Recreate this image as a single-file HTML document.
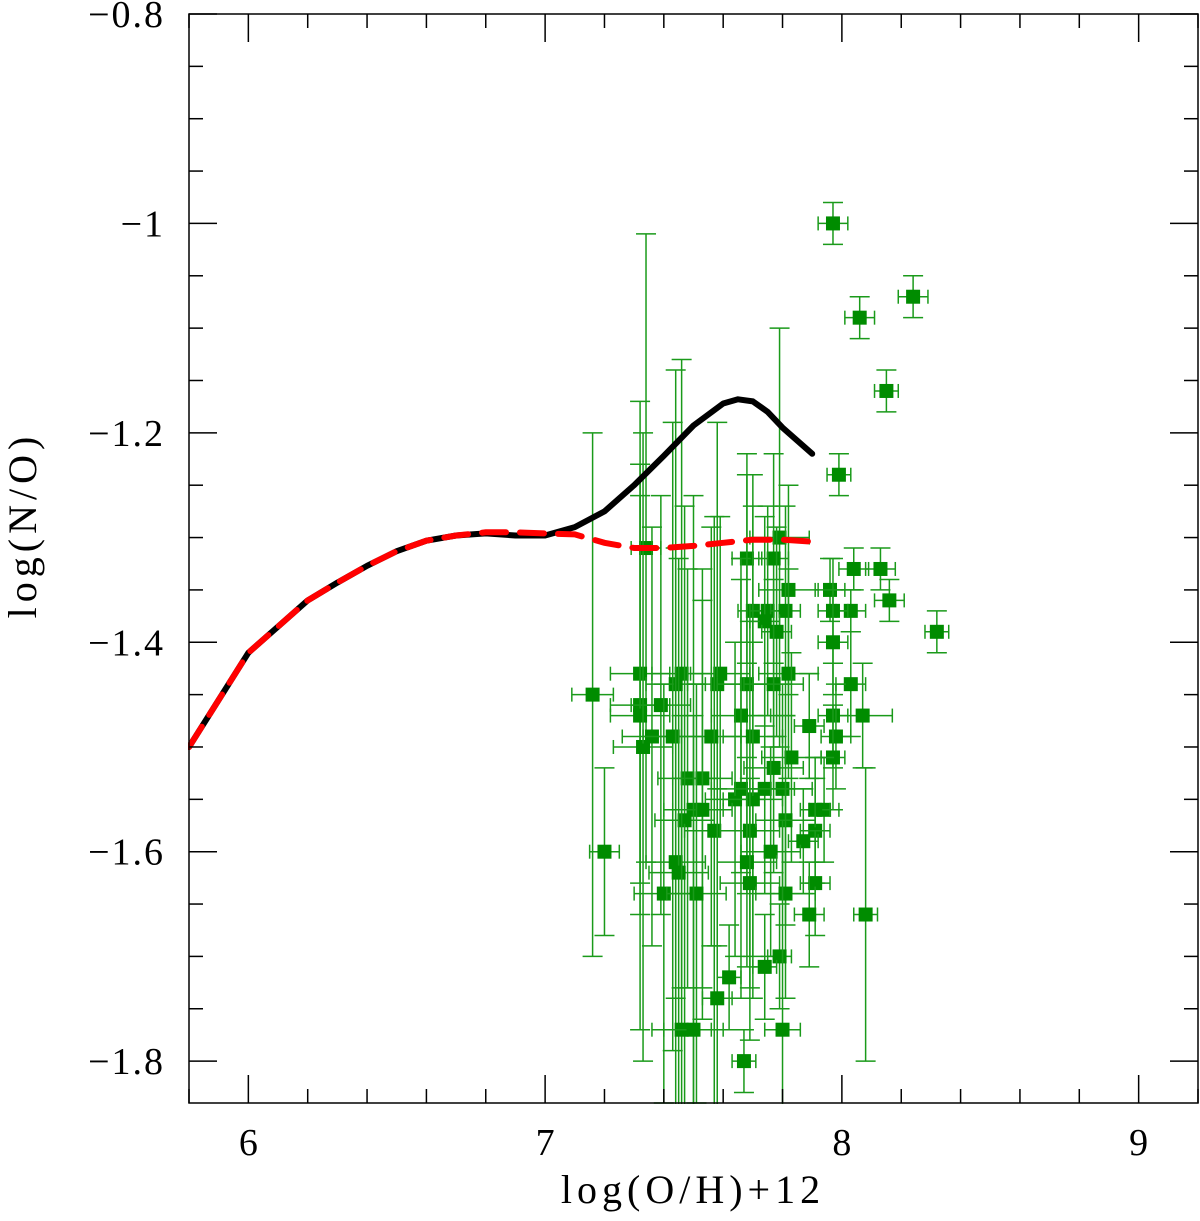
<!DOCTYPE html>
<html><head><meta charset="utf-8"><style>
html,body{margin:0;padding:0;background:#fff;width:1200px;height:1221px;overflow:hidden;}
svg{display:block;}
text{font-family:"Liberation Serif",serif;fill:#000;}
</style></head><body>
<svg id="chart" width="1200" height="1221" viewBox="0 0 1200 1221" xmlns="http://www.w3.org/2000/svg"></svg>
<script>
const xTicks=[6,7,8,9];
const yTicks=[-0.8,-1,-1.2,-1.4,-1.6,-1.8];
const yTickLabels=["\u22120.8","\u22121","\u22121.2","\u22121.4","\u22121.6","\u22121.8"];
const modelX=[5.8,5.9,6.0,6.1,6.2,6.3,6.4,6.5,6.6,6.7,6.8,6.9,7.0,7.1,7.2,7.3,7.4,7.5,7.6,7.65,7.7,7.75,7.8,7.9];
const modelY=[-1.50,-1.455,-1.41,-1.385,-1.36,-1.343,-1.327,-1.313,-1.303,-1.298,-1.296,-1.298,-1.298,-1.29,-1.275,-1.25,-1.222,-1.193,-1.172,-1.168,-1.170,-1.18,-1.195,-1.22];
const dashX=[5.8,5.9,6.0,6.1,6.2,6.3,6.4,6.5,6.6,6.7,6.8,6.9,7.0,7.1,7.2,7.3,7.4,7.5,7.6,7.7,7.8,7.9];
const dashY=[-1.50,-1.455,-1.41,-1.385,-1.36,-1.343,-1.327,-1.313,-1.303,-1.298,-1.295,-1.295,-1.296,-1.297,-1.305,-1.31,-1.31,-1.308,-1.305,-1.302,-1.302,-1.304];
const obsX=[7.97,8.24,8.06,8.15,7.99,8.32,8.13,8.04,8.16,8.03,7.96,7.97,7.97,8.03,8.07,7.97,7.98,7.97,7.89,7.94,7.91,7.91,7.87,7.91,7.89,8.08,
7.34,7.79,7.68,7.77,7.82,7.70,7.75,7.81,7.74,7.78,7.32,7.46,7.44,7.59,7.58,7.68,7.77,7.82,7.16,7.32,7.39,7.32,7.66,7.33,7.36,7.43,7.56,7.70,7.83,7.77,
7.48,7.53,7.66,7.64,7.70,7.74,7.80,7.50,7.53,7.47,7.57,7.69,7.81,7.76,7.44,7.45,7.68,7.40,7.51,7.69,7.81,7.20,7.79,7.74,7.62,7.58,7.46,7.50,7.80,7.67];
const obsY=[-1.00,-1.07,-1.09,-1.16,-1.24,-1.39,-1.33,-1.33,-1.36,-1.37,-1.35,-1.37,-1.40,-1.44,-1.47,-1.47,-1.49,-1.51,-1.48,-1.56,-1.56,-1.58,-1.59,-1.63,-1.66,-1.66,
-1.31,-1.30,-1.32,-1.32,-1.35,-1.37,-1.37,-1.37,-1.38,-1.39,-1.43,-1.43,-1.44,-1.43,-1.44,-1.44,-1.44,-1.43,-1.45,-1.46,-1.46,-1.47,-1.47,-1.50,-1.49,-1.49,-1.49,-1.49,-1.51,-1.52,
-1.53,-1.53,-1.54,-1.55,-1.55,-1.54,-1.54,-1.56,-1.56,-1.57,-1.58,-1.58,-1.57,-1.60,-1.61,-1.62,-1.61,-1.64,-1.64,-1.63,-1.64,-1.60,-1.70,-1.71,-1.72,-1.74,-1.77,-1.77,-1.77,-1.80];
const obsXErr=[0.05,0.05,0.05,0.04,0.04,0.04,0.05,0.05,0.05,0.05,0.05,0.05,0.05,0.05,0.1,0.05,0.05,0.04,0.05,0.05,0.05,0.05,0.05,0.05,0.05,0.04,
0.05,0.1,0.05,0.05,0.1,0.05,0.06,0.05,0.05,0.05,0.1,0.1,0.1,0.1,0.1,0.1,0.1,0.1,0.07,0.1,0.1,0.1,0.1,0.1,0.1,0.1,0.1,0.1,0.1,0.1,
0.1,0.1,0.1,0.1,0.1,0.1,0.1,0.1,0.1,0.1,0.1,0.1,0.1,0.1,0.1,0.1,0.1,0.1,0.1,0.1,0.1,0.05,0.04,0.04,0.04,0.05,0.1,0.1,0.06,0.04];
const obsYErr=[0.02,0.02,0.02,0.02,0.02,0.02,0.02,0.02,0.02,0.02,0.03,0.05,0.05,0.05,0.05,0.05,0.05,0.05,0.05,0.05,0.05,0.05,0.05,0.05,0.05,0.14,
0.3,0.2,0.1,0.1,0.1,0.1,0.1,0.1,0.1,0.1,0.2,0.3,0.3,0.15,0.25,0.2,0.1,0.1,0.25,0.2,0.2,0.3,0.15,0.3,0.2,0.3,0.2,0.25,0.1,0.1,
0.2,0.2,0.2,0.15,0.15,0.1,0.1,0.3,0.2,0.3,0.3,0.2,0.1,0.1,0.3,0.3,0.1,0.2,0.2,0.1,0.1,0.08,0.05,0.05,0.05,0.2,0.3,0.3,0.2,0.03];

const L=189,R=1198,T=14,B=1103;
const xMin=5.8,xMax=9.2,yMin=-1.84,yMax=-0.8;
function xs(v){return L+(v-xMin)/(xMax-xMin)*(R-L);}
function ys(v){return B-(v-yMin)/(yMax-yMin)*(B-T);}
const svg=document.getElementById('chart');
const NS='http://www.w3.org/2000/svg';
function mk(tag,attrs,parent){const e=document.createElementNS(NS,tag);for(const k in attrs)e.setAttribute(k,attrs[k]);(parent||svg).appendChild(e);return e;}

const gPts=mk('g',{});


for(let i=0;i<obsX.length;i++){
  const cx=xs(obsX[i]),cy=ys(obsY[i]);
  const x1=xs(obsX[i]-obsXErr[i]),x2=xs(obsX[i]+obsXErr[i]);
  const y1=ys(obsY[i]+obsYErr[i]),y2=ys(obsY[i]-obsYErr[i]);
  const g=mk('g',{stroke:'#1a9a1a','stroke-width':1.5},gPts);
  
  
  mk('line',{x1:x1,y1:cy,x2:x2,y2:cy},g);
  mk('line',{x1:x1,y1:cy-7,x2:x1,y2:cy+7},g);
  mk('line',{x1:x2,y1:cy-7,x2:x2,y2:cy+7},g);
  mk('line',{x1:cx,y1:y1,x2:cx,y2:y2},g);
  mk('line',{x1:cx-10,y1:y1,x2:cx+10,y2:y1},g);
  mk('line',{x1:cx-10,y1:y2,x2:cx+10,y2:y2},g);
  mk('rect',{x:cx-7,y:cy-7,width:14,height:14,fill:'#008c00',stroke:'none'},g);
}
let d='';modelX.forEach((v,i)=>{d+=(i?'L':'M')+xs(v).toFixed(1)+','+ys(modelY[i]).toFixed(1);});
const p1=mk('path',{d:d,fill:'none',stroke:'#000','stroke-width':6,'stroke-linejoin':'round','stroke-linecap':'round'});


let d2='';dashX.forEach((v,i)=>{d2+=(i?'L':'M')+xs(v).toFixed(1)+','+ys(dashY[i]).toFixed(1);});
const p2=mk('path',{d:d2,fill:'none',stroke:'#ff0000','stroke-width':6,'stroke-dasharray':'24,14','stroke-linecap':'round'});



mk('rect',{x:0,y:B+1,width:1200,height:1221-B,fill:'#fff'});
mk('rect',{x:0,y:0,width:L-1,height:1221,fill:'#fff'});

const fr=mk('rect',{x:L,y:T,width:R-L,height:B-T,fill:'none',stroke:'#000','stroke-width':1.5});


for(let v=5.8;v<=9.2001;v+=0.2){
  const vv=Math.round(v*10)/10;const px=xs(vv);const major=Math.abs(vv-Math.round(vv))<1e-6;const len=major?28:14;
  mk('line',{x1:px,y1:B,x2:px,y2:B-len,stroke:'#000','stroke-width':1.5});
  mk('line',{x1:px,y1:T,x2:px,y2:T+len,stroke:'#000','stroke-width':1.5});
}
xTicks.forEach(v=>{const t=mk('text',{x:xs(v),y:1155,'font-size':38,'text-anchor':'middle'});t.textContent=v;
  });
for(let k=0;k<=21;k++){
  const v=-1.85+k*0.05;const vv=Math.round(v*100)/100;if(vv<yMin-1e-6||vv>yMax+1e-6)continue;
  const py=ys(vv);const major=Math.abs(vv*5-Math.round(vv*5))<1e-6;const len=major?28:14;
  mk('line',{x1:L,y1:py,x2:L+len,y2:py,stroke:'#000','stroke-width':1.5});
  mk('line',{x1:R,y1:py,x2:R-len,y2:py,stroke:'#000','stroke-width':1.5});
}
yTicks.forEach((v,i)=>{const t=mk('text',{x:165,y:ys(v)+13,'font-size':38,'text-anchor':'end','letter-spacing':'2','font-family':'DejaVu Serif, serif'});t.textContent=yTickLabels[i];
  });
const xt=mk('text',{x:693,y:1203,'font-size':40,'text-anchor':'middle','letter-spacing':'5'});xt.textContent='log(O/H)+12';

const yt=mk('text',{x:36,y:525,'font-size':40,'text-anchor':'middle','letter-spacing':'5',transform:'rotate(-90 36 525)'});yt.textContent='log(N/O)';

</script>
</body></html>
